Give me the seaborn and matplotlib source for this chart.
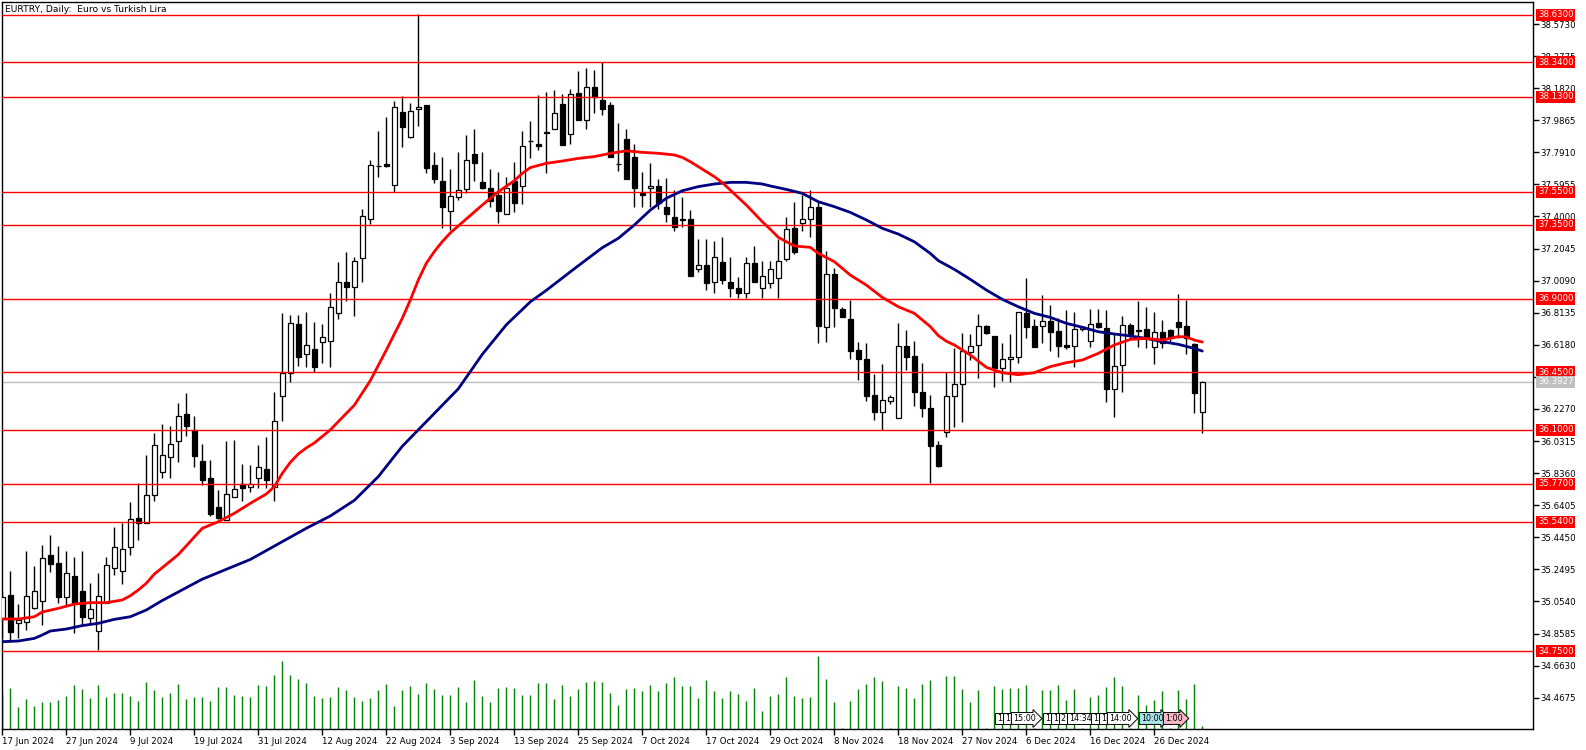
import matplotlib
matplotlib.use("Agg")
import matplotlib.pyplot as plt
import matplotlib.transforms as mtransforms
import numpy as np
import pandas as pd
import seaborn as sns

# ---------------- data ----------------
opens = [34.945, 35.093, 34.921, 34.931, 35.016, 35.059, 35.337, 35.286, 35.079, 35.209,
         35.116, 34.951, 34.876, 35.047, 35.256, 35.242, 35.384, 35.561, 35.530, 35.701,
         35.841, 35.932, 36.030, 36.196, 36.099, 35.910, 35.804, 35.630, 35.550, 35.689,
         35.770, 35.750, 35.804, 35.859, 35.750, 36.306, 36.444, 36.745, 36.560, 36.591,
         36.637, 36.643, 36.810, 36.999, 36.968, 37.145, 37.383, 37.706, 37.720, 37.592,
         38.035, 37.882, 38.053, 38.079, 37.714, 37.616, 37.436, 37.521, 37.566, 37.781,
         37.610, 37.574, 37.533, 37.413, 37.616, 37.584, 37.858, 37.840, 37.917, 37.931,
         38.086, 37.901, 38.151, 37.986, 38.187, 38.110, 38.079, 37.722, 37.870, 37.760,
         37.541, 37.572, 37.584, 37.456, 37.399, 37.385, 37.383, 37.078, 37.102, 36.999,
         37.125, 37.001, 36.962, 36.932, 37.115, 36.962, 36.993, 37.023, 37.139, 37.328,
         37.358, 37.383, 37.460, 36.729, 37.047, 36.838, 36.773, 36.586, 36.530, 36.312,
         36.211, 36.278, 36.170, 36.611, 36.550, 36.332, 36.231, 36.007, 36.089, 36.306,
         36.377, 36.576, 36.615, 36.731, 36.670, 36.475, 36.530, 36.546, 36.810, 36.733,
         36.731, 36.763, 36.702, 36.615, 36.609, 36.714, 36.639, 36.749, 36.723, 36.349,
         36.493, 36.741, 36.708, 36.712, 36.603, 36.694, 36.708, 36.757, 36.731, 36.623,
         36.210]
highs = [35.120, 35.240, 35.036, 35.361, 35.270, 35.398, 35.459, 35.392, 35.361, 35.327,
         35.361, 35.164, 35.225, 35.327, 35.506, 35.530, 35.660, 35.774, 35.946, 36.078,
         36.136, 36.123, 36.261, 36.322, 36.184, 36.014, 35.916, 35.733, 36.032, 36.038,
         35.892, 35.886, 36.007, 36.054, 36.333, 36.810, 36.800, 36.800, 36.820, 36.755,
         36.745, 36.932, 37.121, 37.182, 37.155, 37.444, 37.744, 37.921, 38.008, 38.104,
         38.134, 38.090, 38.632, 38.079, 37.793, 37.765, 37.691, 37.793, 37.897, 37.933,
         37.793, 37.691, 37.669, 37.639, 37.732, 37.919, 37.982, 38.140, 38.161, 38.171,
         38.144, 38.177, 38.287, 38.303, 38.293, 38.339, 38.100, 37.968, 37.933, 37.842,
         37.669, 37.724, 37.626, 37.637, 37.561, 37.517, 37.439, 37.263, 37.263, 37.253,
         37.273, 37.155, 37.033, 37.151, 37.222, 37.129, 37.129, 37.263, 37.395, 37.486,
         37.531, 37.561, 37.486, 37.190, 37.088, 36.850, 36.891, 36.637, 36.631, 36.440,
         36.501, 36.312, 36.753, 36.708, 36.641, 36.509, 36.312, 36.034, 36.450, 36.597,
         36.688, 36.684, 36.806, 36.739, 36.672, 36.627, 36.684, 36.816, 37.023, 36.773,
         36.922, 36.861, 36.779, 36.830, 36.818, 36.733, 36.834, 36.834, 36.830, 36.688,
         36.794, 36.753, 36.885, 36.846, 36.820, 36.769, 36.712, 36.928, 36.891, 36.627,
         36.400]
lows = [34.830, 34.809, 34.829, 34.880, 35.010, 34.911, 35.236, 35.047, 35.032, 34.860,
        34.911, 34.921, 34.758, 35.047, 35.215, 35.160, 35.337, 35.429, 35.530, 35.668,
        35.809, 35.809, 35.906, 36.064, 35.876, 35.762, 35.577, 35.559, 35.550, 35.689,
        35.664, 35.723, 35.743, 35.743, 35.668, 36.156, 36.393, 36.491, 36.481, 36.454,
        36.505, 36.485, 36.773, 36.887, 36.794, 37.003, 37.354, 37.643, 37.700, 37.551,
        37.826, 37.876, 37.952, 37.667, 37.606, 37.332, 37.318, 37.501, 37.545, 37.618,
        37.566, 37.460, 37.362, 37.413, 37.429, 37.474, 37.758, 37.805, 37.667, 37.931,
        37.838, 37.842, 37.990, 37.935, 38.033, 38.019, 37.764, 37.679, 37.626, 37.460,
        37.460, 37.456, 37.448, 37.368, 37.313, 37.338, 37.039, 37.064, 36.952, 36.936,
        36.989, 36.911, 36.901, 36.901, 37.003, 36.901, 36.962, 36.905, 37.131, 37.171,
        37.314, 37.277, 36.627, 36.637, 36.729, 36.785, 36.532, 36.404, 36.278, 36.160,
        36.099, 36.257, 36.170, 36.465, 36.247, 36.176, 35.774, 35.875, 36.054, 36.119,
        36.150, 36.525, 36.418, 36.682, 36.359, 36.399, 36.389, 36.505, 36.658, 36.603,
        36.631, 36.582, 36.542, 36.590, 36.481, 36.702, 36.607, 36.718, 36.272, 36.180,
        36.333, 36.653, 36.603, 36.597, 36.499, 36.597, 36.637, 36.658, 36.562, 36.204,
        36.080]
closes = [35.079, 34.870, 34.941, 35.087, 35.116, 35.317, 35.284, 35.083, 35.225, 35.043,
          34.957, 35.006, 35.087, 35.274, 35.384, 35.372, 35.559, 35.530, 35.701, 36.005,
          35.945, 36.011, 36.184, 36.125, 35.942, 35.796, 35.589, 35.565, 35.707, 35.739,
          35.748, 35.770, 35.873, 35.792, 36.152, 36.446, 36.749, 36.542, 36.615, 36.485,
          36.664, 36.846, 37.003, 36.973, 37.131, 37.405, 37.712, 37.710, 37.710, 38.069,
          37.947, 38.045, 38.065, 37.698, 37.627, 37.460, 37.525, 37.561, 37.744, 37.724,
          37.576, 37.496, 37.436, 37.572, 37.484, 37.828, 37.862, 37.830, 37.907, 38.031,
          37.838, 38.144, 37.990, 38.187, 38.130, 38.053, 37.764, 37.718, 37.626, 37.572,
          37.533, 37.588, 37.480, 37.413, 37.338, 37.381, 37.039, 37.102, 36.993, 37.155,
          37.011, 36.962, 36.932, 37.119, 37.003, 37.035, 37.078, 37.129, 37.322, 37.182,
          37.383, 37.460, 36.735, 37.047, 36.840, 36.789, 36.582, 36.530, 36.308, 36.207,
          36.282, 36.298, 36.611, 36.546, 36.332, 36.231, 36.003, 35.882, 36.306, 36.377,
          36.578, 36.613, 36.735, 36.688, 36.475, 36.530, 36.542, 36.816, 36.729, 36.603,
          36.761, 36.698, 36.613, 36.607, 36.712, 36.725, 36.747, 36.725, 36.347, 36.491,
          36.741, 36.684, 36.702, 36.664, 36.694, 36.627, 36.658, 36.729, 36.658, 36.326,
          36.3927]
volumes = [110, 123, 67, 91, 70, 82, 82, 88, 100, 130,
           118, 94, 130, 97, 109, 109, 100, 85, 139, 115,
           97, 109, 133, 91, 97, 97, 85, 124, 124, 103,
           100, 97, 130, 127, 160, 202, 160, 148, 136, 100,
           94, 97, 124, 115, 97, 85, 94, 115, 133, 70,
           115, 127, 106, 136, 118, 103, 103, 124, 82, 145,
           100, 82, 121, 124, 121, 103, 103, 136, 136, 91,
           130, 100, 118, 139, 142, 139, 109, 73, 118, 121,
           112, 130, 112, 136, 154, 127, 127, 94, 145, 112,
           94, 112, 106, 85, 121, 55, 100, 106, 154, 100,
           93, 96, 218, 148, 82, 4, 85, 118, 133, 154,
           142, 4, 127, 121, 94, 133, 145, 4, 157, 157,
           118, 82, 115, 4, 127, 118, 121, 121, 130, 3,
           115, 115, 130, 88, 118, 3, 97, 103, 124, 154,
           127, 3, 103, 73, 88, 112, 3, 115, 91, 133,
           10]

ma_fast_bars = [0, 2, 4, 5, 7, 9, 11, 13, 15, 16, 17, 18, 19, 20, 22, 25, 27, 29, 31, 33,
                34, 35, 36, 37, 38, 39, 41, 44, 46, 48, 50, 51, 52, 53, 54, 55, 56, 58, 60, 62,
                64, 65, 66, 68, 70, 72, 74, 76, 78, 80, 82, 84, 85, 86, 87, 88, 89, 90, 91, 92,
                93, 94, 95, 96, 97, 99, 101, 102, 104, 106, 108, 110, 112, 114, 116, 117, 118, 119, 121, 123,
                125, 127, 129, 131, 133, 135, 137, 139, 141, 143, 145, 147, 148, 149, 150]
ma_fast_vals = [34.947, 34.947, 34.961, 34.990, 35.012, 35.038, 35.047, 35.047, 35.063, 35.089,
                35.124, 35.165, 35.221, 35.260, 35.340, 35.500, 35.540, 35.591, 35.652, 35.709,
                35.754, 35.835, 35.902, 35.953, 35.990, 36.020, 36.100, 36.250, 36.400, 36.586,
                36.780, 36.891, 37.013, 37.115, 37.186, 37.247, 37.300, 37.385, 37.470, 37.551,
                37.618, 37.663, 37.698, 37.724, 37.738, 37.754, 37.765, 37.785, 37.800, 37.791,
                37.785, 37.775, 37.760, 37.734, 37.704, 37.673, 37.643, 37.606, 37.561, 37.515,
                37.470, 37.419, 37.368, 37.322, 37.273, 37.220, 37.212, 37.175, 37.125, 37.043,
                36.982, 36.907, 36.850, 36.810, 36.729, 36.674, 36.640, 36.617, 36.556, 36.481,
                36.448, 36.436, 36.448, 36.485, 36.509, 36.525, 36.566, 36.617, 36.651, 36.657,
                36.647, 36.668, 36.666, 36.647, 36.635]
ma_slow_bars = [0, 2, 4, 5, 6, 8, 10, 12, 14, 16, 18, 20, 25, 31, 38, 41, 44, 47, 50, 57,
                60, 63, 66, 68, 72, 75, 77, 79, 81, 83, 85, 87, 89, 91, 93, 95, 96, 98, 100, 102,
                104, 106, 108, 110, 112, 114, 116, 117, 119, 121, 123, 125, 127, 129, 131, 133, 135, 137, 139, 141,
                143, 145, 147, 149, 150]
ma_slow_vals = [34.809, 34.813, 34.829, 34.850, 34.874, 34.886, 34.907, 34.921, 34.945, 34.961,
                35.002, 35.060, 35.190, 35.310, 35.500, 35.575, 35.670, 35.815, 36.000, 36.350,
                36.560, 36.740, 36.880, 36.950, 37.100, 37.210, 37.267, 37.348, 37.439, 37.511,
                37.557, 37.582, 37.598, 37.608, 37.608, 37.598, 37.586, 37.565, 37.541, 37.490,
                37.460, 37.425, 37.379, 37.328, 37.293, 37.246, 37.175, 37.131, 37.078, 37.017,
                36.952, 36.895, 36.850, 36.810, 36.785, 36.749, 36.725, 36.698, 36.684, 36.672,
                36.657, 36.637, 36.621, 36.596, 36.580]

level_lines = [38.63, 38.34, 38.13, 37.55, 37.35, 36.90, 36.45, 36.10, 35.77, 35.54, 34.75]
bid_price = 36.3927
price_ticks = [34.4675, 34.6630, 34.8585, 35.0540, 35.2495, 35.4450, 35.6405, 35.8360,
               36.0315, 36.2270, 36.4225, 36.6180, 36.8135, 37.0090, 37.2045, 37.4000,
               37.5955, 37.7910, 37.9865, 38.1820, 38.3775, 38.5730]
date_labels = ["17 Jun 2024", "27 Jun 2024", "9 Jul 2024", "19 Jul 2024", "31 Jul 2024",
               "12 Aug 2024", "22 Aug 2024", "3 Sep 2024", "13 Sep 2024", "25 Sep 2024",
               "7 Oct 2024", "17 Oct 2024", "29 Oct 2024", "8 Nov 2024", "18 Nov 2024",
               "27 Nov 2024", "6 Dec 2024", "16 Dec 2024", "26 Dec 2024"]
date_label_bars = [0, 8, 16, 24, 32, 40, 48, 56, 64, 72, 80, 88, 96, 104, 112, 120, 128, 136, 144]
event_bars = [124, 125, 126, 130, 131, 132, 133, 136, 137, 138, 142, 145]
event_texts = ["1", "1", "15:00", "1", "1", "2", "14:34", "1", "1", "14:00", "10:00", "1:00"]
event_colors = ["white", "white", "white", "white", "white", "white", "white", "white",
                "white", "white", "#A8E4EC", "#F8B8C8"]
event_arrow = [False, False, True, False, False, False, False, False, False, True, True, True]
title = "EURTRY, Daily:  Euro vs Turkish Lira"

# ---------------- figure ----------------
sns.set_theme(style="white")
plt.rcParams['font.family'] = ['DejaVu Sans']
FS = 6.2

W, H = 1586, 750
fig = plt.figure(figsize=(W / 100, H / 100), dpi=100)
L, R, T, B = 2, 1533, 2, 729
rect = [L / W, (H - B) / H, (R - L) / W, (B - T) / H]
vax = fig.add_axes(rect)
ax = fig.add_axes(rect, sharex=vax)
ax.patch.set_visible(False)

df = pd.DataFrame({"bar": np.arange(len(closes)), "open": opens, "high": highs,
                   "low": lows, "close": closes, "volume": volumes})

# volume (tick volume, bottom band)
vax.vlines(df["bar"], 0, df["volume"], color="#008000", lw=1)
vax.set_ylim(0, max(volumes) * (B - T) / 73.0)
vax.set_yticks([])
vax.tick_params(axis="x", which="both", bottom=False, labelbottom=False)
for s in vax.spines.values():
    s.set_visible(False)
vax.set_facecolor("white")

ax.set_xlim(-0.04, (R - 2.3) / 8.0)
ax.set_ylim(38.573 - (B - 24) / 164.1, 38.573 + (24 - T) / 164.1)

# grey bid line
ax.axhline(bid_price, color="#C0C0C0", lw=1, zorder=1)

# candles
ax.vlines(df["bar"], df["low"], df["high"], color="black", lw=1, zorder=3)
up = df[df["close"] >= df["open"]]
dn = df[df["close"] < df["open"]]
ax.bar(up["bar"], np.maximum(up["close"] - up["open"], 0.004), bottom=up["open"], width=0.62,
       color="white", edgecolor="black", linewidth=0.9, zorder=4)
ax.bar(dn["bar"], np.maximum(dn["open"] - dn["close"], 0.004), bottom=dn["close"], width=0.62,
       color="black", edgecolor="black", linewidth=0.9, zorder=4)

# level lines
for v in level_lines:
    ax.axhline(v, color="#FF0000", lw=1, zorder=5)

# moving averages
fast = pd.DataFrame({"bar": ma_fast_bars, "ma": ma_fast_vals})
slow = pd.DataFrame({"bar": ma_slow_bars, "ma": ma_slow_vals})
sns.lineplot(data=slow, x="bar", y="ma", ax=ax, color="#000080", lw=2, zorder=6)
sns.lineplot(data=fast, x="bar", y="ma", ax=ax, color="#FF0000", lw=2, zorder=6)

# axes styling
for s in ax.spines.values():
    s.set_color("black")
    s.set_linewidth(1)
ax.set_xlabel("")
ax.set_ylabel("")
ax.yaxis.tick_right()
ax.set_yticks(price_ticks)
ax.set_yticklabels([f"{v:.4f}" for v in price_ticks])
ax.tick_params(axis="y", which="both", right=True, left=False, length=4, width=1,
               direction="out", pad=1, labelsize=FS, colors="black")
ax.set_xticks(date_label_bars)
ax.set_xticklabels(date_labels, ha="left")
ax.tick_params(axis="x", which="both", bottom=True, length=4, width=1,
               direction="out", pad=1.5, labelsize=FS, colors="black")

# price label boxes
btrans = mtransforms.blended_transform_factory(ax.transAxes, ax.transData)
off = mtransforms.ScaledTranslation(5 / 100, 0, fig.dpi_scale_trans)
for v in level_lines:
    ax.text(1.0, v, f"{v:.4f}", transform=btrans + off, color="white", fontsize=FS,
            va="center", ha="left", clip_on=False, zorder=10,
            bbox=dict(boxstyle="square,pad=0.18", fc="#FF0000", ec="none"))
ax.text(1.0, bid_price, f"{bid_price:.4f}", transform=btrans + off, color="white", fontsize=FS,
        va="center", ha="left", clip_on=False, zorder=10,
        bbox=dict(boxstyle="square,pad=0.18", fc="#C0C0C0", ec="none"))

# title
ax.text(0.002, 1 - 7.5 / (B - T), title, transform=ax.transAxes, fontsize=6.6,
        va="center", ha="left", color="black", zorder=10)

# event markers at the bottom
etrans = mtransforms.blended_transform_factory(ax.transData, ax.transAxes)
eoff = mtransforms.ScaledTranslation(2.5 / 100, 0, fig.dpi_scale_trans)
for b, t, c, arr in zip(event_bars, event_texts, event_colors, event_arrow):
    style = "rarrow,pad=0.18" if arr else "square,pad=0.18"
    ax.text(b, (B - 718.5) / (B - T), t, transform=etrans + eoff, fontsize=5.8,
            va="center", ha="left", color="black", zorder=9,
            bbox=dict(boxstyle=style, fc=c, ec="black", lw=0.7))

fig.savefig("out.png", dpi=100)
